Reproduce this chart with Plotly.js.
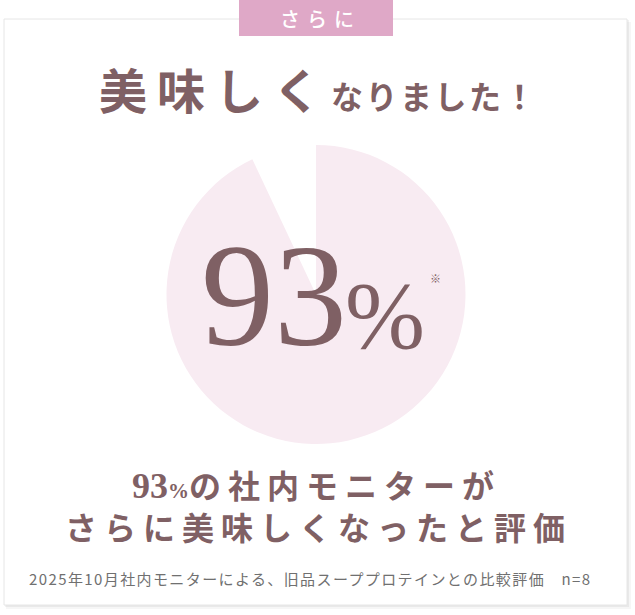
<!DOCTYPE html>
<html>
<head>
<meta charset="utf-8">
<script src="https://cdn.plot.ly/plotly-3.0.1.min.js"></script>
<style>
  html, body { margin: 0; padding: 0; background: #fff; }
  #chart { width: 635px; height: 615px; }
</style>
</head>
<body>
<div id="chart"></div>
<script>
// data
var labels = ['美味しくなった', 'その他'];
var values = [93, 7];
var tagText = 'さらに';
var titleBig = '美味しく';
var titleSmall = 'なりました！';
var line1Text = 'の社内モニターが';
var line2Text = 'さらに美味しくなったと評価';
var noteText = '2025年10月社内モニターによる、旧品スーププロテインとの比較評価';
var sampleSize = 8;

var W = 635, H = 615;
var textColor = '#7f6064';
var pinkFill = '#f8ebf2';
var tagColor = '#dfa8c7';
var jp = 'Noto Sans CJK JP';
var serif = 'Liberation Serif';

function px(x) { return x / W; }
function py(y) { return 1 - y / H; }

function rect(x0, y0, x1, y1, fill, line) {
  return {
    type: 'rect', xref: 'paper', yref: 'paper', layer: 'below',
    x0: px(x0), x1: px(x1), y0: py(y1), y1: py(y0),
    fillcolor: fill,
    line: line ? { color: line, width: 1 } : { width: 0 }
  };
}

var cx = 316, cy = 294.5, r = 149.5;

var trace = {
  type: 'pie',
  labels: labels,
  values: values,
  sort: false,
  direction: 'clockwise',
  rotation: 0,
  textinfo: 'none',
  hoverinfo: 'none',
  showlegend: false,
  marker: { colors: [pinkFill, 'rgba(255,255,255,0)'], line: { width: 0 } },
  domain: { x: [px(cx - r), px(cx + r)], y: [py(cy + r), py(cy - r)] }
};

var pct = values[0];

var layout = {
  width: W, height: H,
  margin: { l: 0, r: 0, t: 0, b: 0 },
  paper_bgcolor: '#ffffff',
  plot_bgcolor: '#ffffff',
  shapes: [
    rect(6, 22, 631, 609, 'rgba(0,0,0,0.035)'),
    rect(5, 20, 629, 607, 'rgba(0,0,0,0.05)'),
    rect(4, 19, 627, 605, '#ffffff', '#e6e6e6'),
    rect(239, -2, 393, 36, tagColor)
  ],
  annotations: [
    {
      text: '<span style="letter-spacing:7px">' + tagText + '</span>',
      x: px(320), y: py(19), xref: 'paper', yref: 'paper', showarrow: false,
      xanchor: 'center', yanchor: 'middle',
      font: { family: jp, size: 20, color: '#ffffff', weight: 500 }
    },
    {
      text: '<span style="font-size:48px;letter-spacing:10px">' + titleBig + '</span>' +
            '<span style="font-size:32px;letter-spacing:2.5px">' + titleSmall + '</span>',
      x: px(318), y: py(88), xref: 'paper', yref: 'paper', showarrow: false,
      xanchor: 'center', yanchor: 'middle',
      font: { family: jp, size: 40, color: textColor, weight: 'bold' }
    },
    {
      text: String(pct),
      x: px(274), y: py(296), xref: 'paper', yref: 'paper', showarrow: false,
      xanchor: 'center', yanchor: 'middle',
      font: { family: serif, size: 146, color: textColor }
    },
    {
      text: '%',
      x: px(385), y: py(315), xref: 'paper', yref: 'paper', showarrow: false,
      xanchor: 'center', yanchor: 'middle',
      font: { family: serif, size: 96, color: textColor }
    },
    {
      text: '※',
      x: px(435), y: py(278), xref: 'paper', yref: 'paper', showarrow: false,
      xanchor: 'center', yanchor: 'middle',
      font: { family: jp, size: 11, color: textColor }
    },
    {
      text: '<span style="font-family:Liberation Serif;font-size:36px;font-weight:bold">' + pct + '</span>' +
            '<span style="font-family:Liberation Serif;font-size:21px;font-weight:bold">%</span>' +
            '<span style="font-size:32px;letter-spacing:7px">' + line1Text + '</span>',
      x: px(316), y: py(484), xref: 'paper', yref: 'paper', showarrow: false,
      xanchor: 'center', yanchor: 'middle',
      font: { family: jp, size: 32, color: textColor, weight: 'bold' }
    },
    {
      text: '<span style="letter-spacing:7px">' + line2Text + '</span>',
      x: px(319), y: py(526), xref: 'paper', yref: 'paper', showarrow: false,
      xanchor: 'center', yanchor: 'middle',
      font: { family: jp, size: 32, color: textColor, weight: 'bold' }
    },
    {
      text: '<span style="letter-spacing:1.4px">' + noteText + '　n=' + sampleSize + '</span>',
      x: px(27), y: py(578), xref: 'paper', yref: 'paper', showarrow: false,
      xanchor: 'left', yanchor: 'middle',
      font: { family: jp, size: 15, color: '#707070' }
    }
  ]
};

Plotly.newPlot('chart', [trace], layout, { displayModeBar: false, staticPlot: true });
</script>
</body>
</html>
